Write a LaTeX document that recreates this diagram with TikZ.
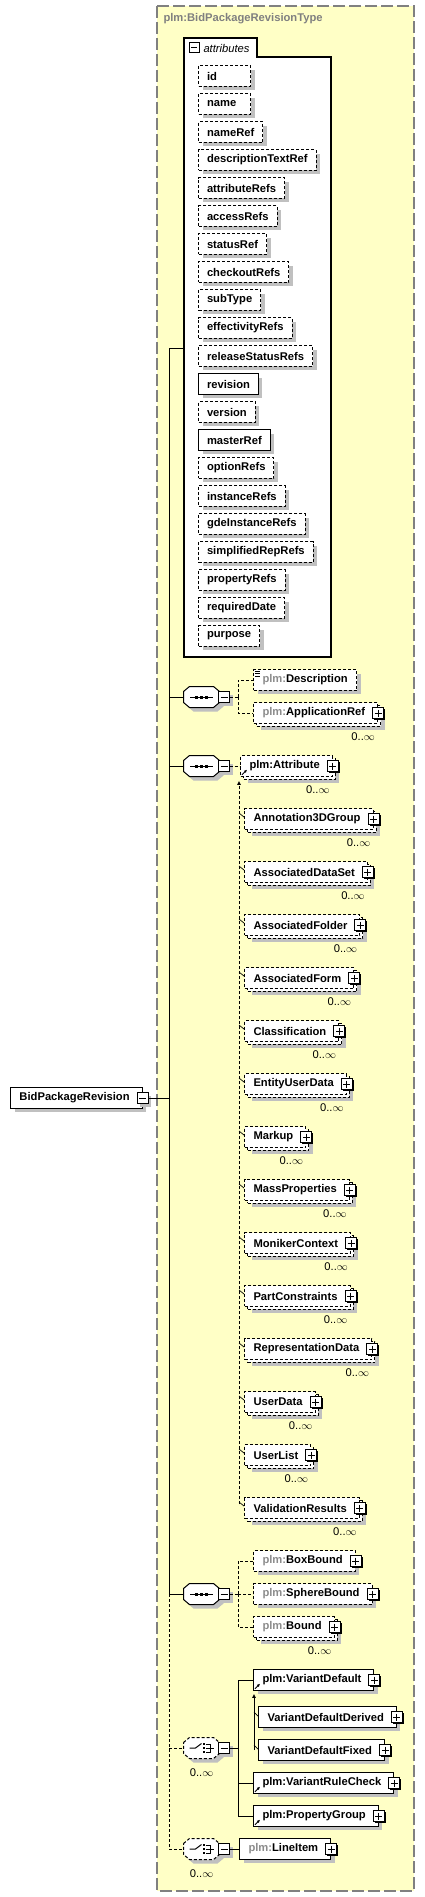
\documentclass[tikz,border=0pt]{standalone}
\usepackage{fontspec}
\setmainfont{Liberation Sans}
\usetikzlibrary{arrows.meta,calc,shadows}
\definecolor{schemayellow}{RGB}{255,255,198}
\definecolor{framegray}{RGB}{128,128,128}
\definecolor{shadowgray}{RGB}{192,192,192}
\definecolor{prefixgray}{RGB}{140,140,140}

\newcommand{\diagfont}{\fontsize{11.2}{13}\selectfont}
\newcommand{\plm}{\textcolor{prefixgray}{plm:}}
% small expand / collapse boxes
\newcommand{\plusat}[1]{%
  \fill ($#1+(-4,-4)$) rectangle ($#1+(7,7)$);
  \draw[solid,fill=white] ($#1+(-5.5,-5.5)$) rectangle ($#1+(5.5,5.5)$);
  \draw[solid] ($#1+(-3.5,0)$) -- ($#1+(3.5,0)$) ($#1+(0,-3.5)$) -- ($#1+(0,3.5)$);}
\newcommand{\minusat}[1]{%
  \fill[shadowgray] ($#1+(-2.5,-2.5)$) rectangle ($#1+(8.5,8.5)$);
  \draw[solid,fill=white] ($#1+(-5.5,-5.5)$) rectangle ($#1+(5.5,5.5)$);
  \draw[solid] ($#1+(-3.5,0)$) -- ($#1+(3.5,0)$);}
% compositor outline (octagon round a named node)
\newcommand{\octpath}[1]{($(#1.north west)+(0,5)$) -- ($(#1.north west)+(6,0)$) -- ($(#1.north east)+(-6,0)$) -- ($(#1.north east)+(0,5)$) -- ($(#1.south east)+(0,-5)$) -- ($(#1.south east)+(-6,0)$) -- ($(#1.south west)+(6,0)$) -- ($(#1.south west)+(0,-5)$) -- cycle}
\newcommand{\compbox}[2]{%
  \fill[shadowgray, transform canvas={shift={(4pt,-4pt)}}] \octpath{#1};
  \draw[fill=white, #2] \octpath{#1};}
% compositor icons
\newcommand{\seqicon}[1]{%
  \draw[solid] ($(#1.center)+(-11.5,0)$) -- ($(#1.center)+(11.5,0)$);
  \fill ($(#1.center)+(-6.5,-1.5)$) rectangle ++(3,3);
  \fill ($(#1.center)+(-1.5,-1.5)$) rectangle ++(3,3);
  \fill ($(#1.center)+(3.5,-1.5)$) rectangle ++(3,3);}
\newcommand{\choiceicon}[1]{%
  \draw[solid] ($(#1.center)+(-12,0)$) -- ($(#1.center)+(-6,0)$) -- ($(#1.center)+(0,-4.5)$);
  \fill ($(#1.center)+(1.5,-5)$) rectangle ++(2,2);
  \fill ($(#1.center)+(1.5,-1)$) rectangle ++(2,2);
  \fill ($(#1.center)+(1.5,3)$) rectangle ++(2,2);
  \draw[solid] ($(#1.center)+(4,-4)$) -- ($(#1.center)+(8.5,-4)$) -- ($(#1.center)+(8.5,4)$) -- ($(#1.center)+(4,4)$);
  \draw[solid] ($(#1.center)+(4,0)$) -- ($(#1.center)+(12,0)$);}
\newcommand{\refarrow}[1]{%
  \draw[solid,line width=0.8pt,-{Latex[length=3pt,width=3pt]}] ($(#1.south west)+(2,-2)$) -- ++(5,-5);}

\begin{document}
\begin{tikzpicture}[x=1pt, y=-1pt, line width=1pt,
    dsh/.style={dash pattern=on 3pt off 2pt},
    attr/.style={draw, dsh, fill=white, anchor=west, minimum height=20.5pt, inner xsep=8.5pt, inner ysep=0pt, font=\diagfont\bfseries, general shadow={fill=shadowgray, shadow xshift=4pt, shadow yshift=-4pt}},
    req/.style={attr, solid},
    leaf/.style={draw, dsh, fill=white, anchor=west, minimum height=20.5pt, inner xsep=9pt, inner ysep=0pt, font=\diagfont\bfseries, general shadow={fill=shadowgray, shadow xshift=4pt, shadow yshift=-4pt}},
    elem/.style={leaf, execute at end node={\hspace{3.5pt}}},
    multi/.style={draw, dsh, fill=white, anchor=west, minimum height=20.5pt, inner xsep=9pt, inner ysep=0pt, font=\diagfont\bfseries, general shadow={fill=shadowgray, shadow xshift=7pt, shadow yshift=-7pt}, general shadow={draw, fill=white, shadow xshift=3pt, shadow yshift=-3pt}, execute at end node={\hspace{3.5pt}}},
    comp/.style={minimum width=35pt, minimum height=20pt, inner sep=0pt},
    mult/.style={font=\diagfont, inner sep=0pt}
]
\useasboundingbox (0,0) rectangle (425,1897);

% Type frame
\draw[framegray, fill=schemayellow, line width=1.2pt, dash pattern=on 12pt off 4pt] (157,6) rectangle (414,1891);
\node[anchor=west, inner sep=0pt, font=\diagfont\bfseries, text=framegray] (title) at (163,19) {plm:BidPackageRevisionType};

% Root element
\node[elem, solid] (root) at (10,1098) {BidPackageRevision};
\minusat{(root.east)}

% Attributes
\draw[fill=white, line width=1.2pt] (184,657) -- (184,38) -- (257,38) -- (257,57) -- (331,57) -- (331,657) -- cycle;
\draw[fill=white] (189,43) rectangle (199,53);
\draw (191,48) -- (197,48);
\node[anchor=west, inner sep=0pt, font=\diagfont\itshape] (attrlabel) at (203,48) {attributes};
\coordinate (attrsIn) at (184,348);

\node[attr] (aid) at (198,76) {\makebox[35pt][l]{id}};
\node[attr] (aname) at (198,104) {\makebox[35pt][l]{name}};
\node[attr] (anameref) at (198,132) {nameRef};
\node[attr] (adesc) at (198,160) {descriptionTextRef};
\node[attr] (aattr) at (198,188) {attributeRefs};
\node[attr] (aaccess) at (198,216) {accessRefs};
\node[attr] (astatus) at (198,244) {statusRef};
\node[attr] (acheckout) at (198,272) {checkoutRefs};
\node[attr] (asubtype) at (198,300) {subType};
\node[attr] (aeff) at (198,328) {effectivityRefs};
\node[attr] (arelease) at (198,356) {releaseStatusRefs};
\node[req] (arevision) at (198,384) {revision};
\node[attr] (aversion) at (198,412) {version};
\node[req] (amaster) at (198,440) {masterRef};
\node[attr] (aoption) at (198,468) {optionRefs};
\node[attr] (ainstance) at (198,496) {instanceRefs};
\node[attr] (agde) at (198,524) {gdeInstanceRefs};
\node[attr] (asimplified) at (198,552) {simplifiedRepRefs};
\node[attr] (aproperty) at (198,580) {propertyRefs};
\node[attr] (arequired) at (198,608) {requiredDate};
\node[attr] (apurpose) at (198,636) {purpose};

% First sequence
\node[comp] (seqA) at (201.5,697) {};
\compbox{seqA}{solid}
\seqicon{seqA}
\minusat{($(seqA.east)+(4.5,0)$)}
\node[leaf] (desc) at (253,680) {\plm Description};
\draw[line width=0.8pt] ($(desc.north west)+(2,2)$) -- ++(5,0) ($(desc.north west)+(2,4.5)$) -- ++(5,0) ($(desc.north west)+(2,7)$) -- ++(5,0);
\node[multi] (appref) at (253,713) {\plm ApplicationRef};
\plusat{(appref.east)}
\node[mult] (apprefM) at ($(appref.south east)+(-15,13)$) {0..$\infty$};

% Second sequence
\node[comp] (seqB) at (201.5,766) {};
\compbox{seqB}{solid}
\seqicon{seqB}
\minusat{($(seqB.east)+(4.5,0)$)}
\node[multi] (attribute) at (240,766) {plm:Attribute};
\plusat{(attribute.east)}
\refarrow{attribute}
\node[mult] (attributeM) at ($(attribute.south east)+(-15,13)$) {0..$\infty$};

% Substitution group of plm:Attribute
\node[multi] (anno) at (244,819) {Annotation3DGroup};
\node[multi] (dataset) at (244,872) {AssociatedDataSet};
\node[multi] (folder) at (244,925) {AssociatedFolder};
\node[multi] (form) at (244,978) {AssociatedForm};
\node[multi] (classif) at (244,1031) {Classification};
\node[multi] (euser) at (244,1084) {EntityUserData};
\node[multi] (markup) at (244,1137) {Markup};
\node[multi] (massprop) at (244,1190) {MassProperties};
\node[multi] (moniker) at (244,1243) {MonikerContext};
\node[multi] (partcons) at (244,1296) {PartConstraints};
\node[multi] (repdata) at (244,1349) {RepresentationData};
\node[multi] (userdata) at (244,1402) {UserData};
\node[multi] (userlist) at (244,1455) {UserList};
\node[multi] (validres) at (244,1508) {ValidationResults};
\foreach \m in {anno,dataset,folder,form,classif,euser,markup,massprop,moniker,partcons,repdata,userdata,userlist,validres}{
  \plusat{(\m.east)}
  \node[mult] (\m M) at ($(\m.south east)+(-15,13)$) {0..$\infty$};
}

% Third sequence
\node[comp] (seqC) at (201.5,1594) {};
\compbox{seqC}{solid}
\seqicon{seqC}
\minusat{($(seqC.east)+(4.5,0)$)}
\node[elem] (boxb) at (253,1561) {\plm BoxBound};
\plusat{(boxb.east)}
\node[elem] (sphere) at (253,1594) {\plm SphereBound};
\plusat{(sphere.east)}
\node[multi] (bound) at (253,1627) {\plm Bound};
\plusat{(bound.east)}
\node[mult] (boundM) at ($(bound.south east)+(-15,13)$) {0..$\infty$};

% First choice
\node[comp] (choiceA) at (201.5,1748) {};
\compbox{choiceA}{dsh}
\choiceicon{choiceA}
\minusat{($(choiceA.east)+(4.5,0)$)}
\node[mult] (choiceAM) at ($(choiceA.south)+(0,14)$) {0..$\infty$};
\node[elem, solid] (vdef) at (253,1680) {plm:VariantDefault};
\plusat{(vdef.east)}
\refarrow{vdef}
\node[elem, solid] (vderived) at (258,1717) {VariantDefaultDerived};
\plusat{(vderived.east)}
\node[elem, solid] (vfixed) at (258,1750) {VariantDefaultFixed};
\plusat{(vfixed.east)}
\node[elem, solid] (vrule) at (253,1783) {plm:VariantRuleCheck};
\plusat{(vrule.east)}
\refarrow{vrule}
\node[elem, solid] (pgroup) at (253,1816) {plm:PropertyGroup};
\plusat{(pgroup.east)}
\refarrow{pgroup}

% Second choice
\node[comp] (choiceB) at (201.5,1849) {};
\compbox{choiceB}{dsh}
\choiceicon{choiceB}
\minusat{($(choiceB.east)+(4.5,0)$)}
\node[mult] (choiceBM) at ($(choiceB.south)+(0,14)$) {0..$\infty$};
\node[elem, solid] (lineitem) at (239,1849) {\plm LineItem};
\plusat{(lineitem.east)}

% Connections
\coordinate (bus) at (169,1098);
\coordinate (busTop) at (169,348);
\coordinate (busMid) at (169,1594);
\coordinate (busBot) at (169,1849);
\draw ($(root.east)+(5.5,0)$) -- (bus);
\draw (busTop) -- (busMid);
\draw (busTop) -- (attrsIn);
\draw (seqA -| bus) -- (seqA.west);
\draw (seqB -| bus) -- (seqB.west);
\draw (busMid) -- (seqC.west);
\draw[dsh] (busMid) -- (busBot);
\draw[dsh] (choiceA -| bus) -- (choiceA.west);
\draw[dsh] (busBot) -- (choiceB.west);

\coordinate (forkA) at (238,697);
\draw[dsh] ($(seqA.east)+(10,0)$) -- (forkA);
\draw[dsh] (forkA) |- (desc.west);
\draw[dsh] (forkA) |- (appref.west);

\draw[dsh] ($(seqB.east)+(10,0)$) -- (attribute.west);
\coordinate (substTop) at ($(attribute.south west)+(-1,4)$);
\coordinate (substBot) at ($(substTop |- validres.west)+(0,-4)$);
\draw[dsh, -{Latex[length=4pt,width=4pt]}] (substBot) -- (substTop);
\foreach \m in {anno,dataset,folder,form,classif,euser,markup,massprop,moniker,partcons,repdata,userdata,userlist,validres}{
  \draw[line width=0.7pt] (substTop |- \m.west) ++(0,-6) -- ($(\m.west)+(0,-2)$);
}

\coordinate (forkC) at (238,1594);
\draw[dsh] ($(seqC.east)+(10,0)$) -- (forkC);
\draw[dsh] (forkC) |- (boxb.west);
\draw[dsh] (forkC) -- (sphere.west);
\draw[dsh] (forkC) |- (bound.west);

\coordinate (forkD) at (238,1748);
\draw ($(choiceA.east)+(10,0)$) -- (forkD);
\draw (forkD) |- (vdef.west);
\draw (forkD) |- (vrule.west);
\draw (forkD) |- (pgroup.west);
\coordinate (vsubTop) at ($(vdef.south west)+(1,3)$);
\coordinate (vsubBot) at (vsubTop |- vfixed.west);
\draw[-{Latex[length=4pt,width=4pt]}] (vsubBot) -- (vsubTop);
\draw[line width=0.7pt] (vsubTop |- vderived.west) ++(0,-5) -- ($(vderived.west)+(0,-1)$);
\draw[line width=0.7pt] (vsubBot) ++(0,-5) -- ($(vfixed.west)+(0,-1)$);

\draw ($(choiceB.east)+(10,0)$) -- (lineitem.west);

\end{tikzpicture}
\end{document}
